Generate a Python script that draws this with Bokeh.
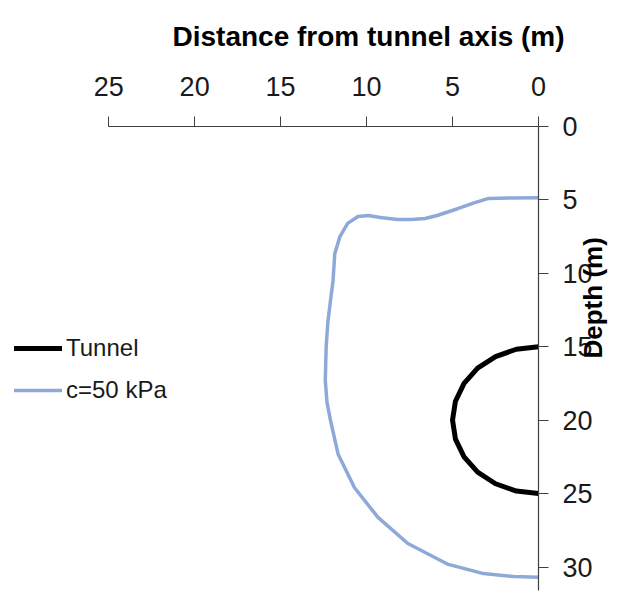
import math
from bokeh.plotting import figure
from bokeh.models import Range1d, Legend, LegendItem, FixedTicker
from bokeh.embed import file_html
from bokeh.resources import INLINE

# Tunnel outline (distance from axis, depth)
tunnel_x = [0, 1.29, 2.5, 3.54, 4.33, 4.83, 5.0, 4.83, 4.33, 3.54, 2.5, 1.29, 0]
tunnel_y = [15, 15.17, 15.67, 16.46, 17.5, 18.71, 20, 21.29, 22.5, 23.54, 24.33, 24.83, 25]

# c = 50 kPa contour
c50_x = [0, 1.5, 2.9, 3.75, 4.7, 5.9, 6.6, 7.4, 8.2, 9.2, 9.9, 10.5, 11.1, 11.55,
         11.85, 11.95, 12.07, 12.25, 12.35, 12.4, 12.3, 12.1, 11.66, 10.7, 9.35,
         7.6, 5.3, 3.2, 1.44, 0]
c50_y = [4.85, 4.87, 4.9, 5.2, 5.6, 6.06, 6.27, 6.33, 6.33, 6.2, 6.06, 6.13, 6.6, 7.5,
         8.66, 10.5, 11.6, 13.3, 15, 17.3, 18.8, 20, 22.3, 24.6, 26.6,
         28.4, 29.8, 30.45, 30.65, 30.7]

x_ticks = [0, 5, 10, 15, 20, 25]
y_ticks = [0, 5, 10, 15, 20, 25, 30]

FONT = "Liberation Sans"

p = figure(width=625, height=596, output_backend="svg", toolbar_location=None,
           x_range=Range1d(31, 0), y_range=Range1d(31.6, 0),
           x_axis_location="above", y_axis_location="right",
           min_border_left=5, min_border_right=83, min_border_top=126,
           min_border_bottom=6)
p.grid.visible = False
p.outline_line_color = None
p.background_fill_color = "white"

r_c50 = p.line(c50_x, c50_y, line_color="#8EA9D8", line_width=3.5,
               line_join="round", line_cap="round")
r_tun = p.line(tunnel_x, tunnel_y, line_color="black", line_width=5,
               line_join="round", line_cap="round")

for ax in (p.xaxis[0], p.yaxis[0]):
    ax.axis_line_color = "#404040"
    ax.axis_line_width = 1.2
    ax.major_tick_line_color = "#404040"
    ax.major_tick_in = 0
    ax.major_tick_out = 10
    ax.minor_tick_line_color = None
    ax.major_label_text_font = FONT
    ax.major_label_text_font_size = "27px"
    ax.major_label_text_color = "#1a1a1a"
    ax.axis_label_text_font = FONT
    ax.axis_label_text_font_size = "26px"
    ax.axis_label_text_font_style = "bold"
    ax.axis_label_text_color = "black"

p.xaxis[0].ticker = FixedTicker(ticks=x_ticks)
p.xaxis[0].bounds = (0, 25)
p.yaxis[0].ticker = FixedTicker(ticks=y_ticks)
p.yaxis[0].axis_label = "Depth (m)"
p.xaxis[0].major_label_standoff = 21
p.yaxis[0].major_label_standoff = 14
p.yaxis[0].axis_label_standoff = -3
try:
    p.yaxis[0].axis_label_orientation = math.pi / 2
except Exception:
    pass

p.title.text = "Distance from tunnel axis (m)"
p.title.align = "left"
p.title.offset = 167
p.title.text_font = FONT
p.title.text_font_size = "28px"
p.title.text_font_style = "bold"
p.title.text_color = "black"
p.title.standoff = 40
p.title.vertical_align = "top"

legend = Legend(items=[LegendItem(label="Tunnel", renderers=[r_tun]),
                       LegendItem(label="c=50 kPa", renderers=[r_c50])],
                location=(9, 186))
legend.background_fill_alpha = 0
legend.border_line_color = None
legend.padding = 0
legend.margin = 0
legend.spacing = 14
legend.glyph_width = 48
legend.glyph_height = 28
legend.label_height = 28
legend.label_standoff = 4
legend.label_text_font = FONT
legend.label_text_font_size = "24px"
legend.label_text_color = "#1a1a1a"
p.add_layout(legend)

open("out.html", "w").write(file_html(p, INLINE))
